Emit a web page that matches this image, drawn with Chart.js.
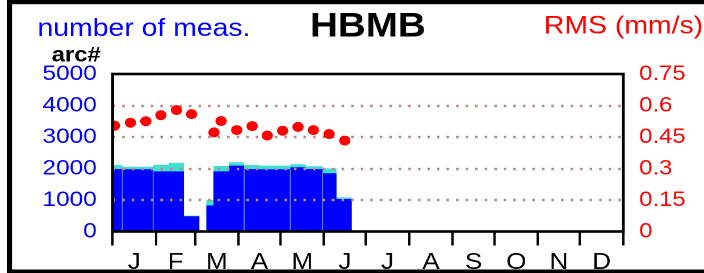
<!DOCTYPE html>
<html>
<head>
<meta charset="utf-8">
<script src="https://cdn.jsdelivr.net/npm/chart.js@4/dist/chart.umd.min.js"></script>
<style>
  html, body { margin: 0; padding: 0; background: #fff; overflow: hidden; }
  #c { display: block; width: 704px; height: 273px; }
</style>
</head>
<body>
<canvas id="c" width="620" height="273" style="width:704px;height:273px"></canvas>
<script>
// ---------- data ----------
const monthLabels = ['J','F','M','A','M','J','J','A','S','O','N','D'];
const monthDays = [31,28,31,30,31,30,31,31,30,31,30,31];

// measurement periods (day of year)
const periodStart = [0, 7, 29, 40, 51, 67, 72, 83, 94, 105, 127, 138, 150, 160];
const periodEnd   = [7, 29, 40, 51, 62, 72, 83, 94, 105, 127, 138, 150, 160, 171];
// number of measurements (blue part, turquoise part stacked on top)
const blueCounts = [1985, 1975, 1910, 1910, 485, 830, 1910, 2090, 1985, 1975, 2040, 1985, 1850, 1030];
const cyanCounts = [125, 80, 210, 265, 20, 170, 170, 110, 125, 115, 95, 85, 155, 55];
// period boundaries that show a light separator
const separatorDays = [7, 29, 94, 127, 150];

// RMS (mm/s)
const rmsDays   = [1.3, 12.7, 23.7, 34.5, 45.6, 56.4, 72.4, 77.5, 88.7, 99.7, 110.5, 121.5, 132.5, 143.5, 154.7, 165.9];
const rmsValues = [0.504, 0.518, 0.525, 0.554, 0.578, 0.559, 0.472, 0.526, 0.483, 0.502, 0.457, 0.480, 0.498, 0.483, 0.464, 0.433];

const countTicks = [0, 1000, 2000, 3000, 4000, 5000];
const rmsTicks = [0, 0.15, 0.3, 0.45, 0.6, 0.75];

// ---------- derived tables ----------
const monthBounds = [0];
monthDays.forEach(d => monthBounds.push(monthBounds[monthBounds.length - 1] + d));
const monthMids = monthDays.map((d, i) => monthBounds[i] + d / 2);
const midLabel = new Map(monthMids.map((m, i) => [m, monthLabels[i]]));
const boundSet = new Set(monthBounds);
const xTicks = monthBounds.concat(monthMids).sort((a, b) => a - b);

function stepSeries(vals) {
  const pts = [];
  for (let i = 0; i < vals.length; i++) {
    if (i > 0 && periodStart[i] !== periodEnd[i - 1]) pts.push({x: periodEnd[i - 1], y: 0});
    pts.push({x: periodStart[i], y: vals[i]});
  }
  pts.push({x: periodEnd[vals.length - 1], y: 0});
  return pts;
}
const totalCounts = blueCounts.map((b, i) => b + cyanCounts[i]);
const sepPts = [];
separatorDays.forEach(d => {
  const i = periodStart.indexOf(d);
  const h = Math.min(blueCounts[i - 1], blueCounts[i]);
  sepPts.push({x: d, y: 0}, {x: d, y: h}, {x: d, y: null});
});
const rmsPts = rmsDays.map((d, i) => ({x: d, y: rmsValues[i]}));

const FONT = '"Liberation Sans", Arial, sans-serif';
Chart.defaults.font.family = FONT;

// ---------- plugins ----------
const gridPlugin = {
  id: 'dottedGrid',
  beforeDatasetDraw(chart, args) {
    if (args.index !== 0) return;
    const ctx = chart.ctx, a = chart.chartArea, y = chart.scales.y;
    ctx.save();
    ctx.strokeStyle = '#b88a8a';
    ctx.lineWidth = 2.6;
    ctx.setLineDash([2.3, 6.1]);
    countTicks.forEach(v => {
      if (v === 0 || v === 5000) return;
      const py = Math.round(y.getPixelForValue(v));
      ctx.beginPath();
      ctx.moveTo(a.left, py);
      ctx.lineTo(a.right, py);
      ctx.stroke();
    });
    ctx.restore();
  }
};

const decorPlugin = {
  id: 'decor',
  afterDraw(chart) {
    const ctx = chart.ctx, a = chart.chartArea;
    ctx.save();
    // plot box
    ctx.strokeStyle = '#000';
    ctx.lineWidth = 2.6;
    ctx.strokeRect(a.left, a.top, a.right - a.left, a.bottom - a.top);
    // texts
    ctx.textBaseline = 'alphabetic';
    ctx.textAlign = 'left';
    ctx.fillStyle = '#0000ff';
    ctx.font = '25px ' + FONT;
    ctx.fillText('number of meas.', 33, 36);
    ctx.fillStyle = '#000';
    ctx.font = 'bold 34px ' + FONT;
    ctx.fillText('HBMB', 273, 36.5);
    ctx.fillStyle = '#ff0000';
    ctx.font = '25px ' + FONT;
    ctx.fillText('RMS (mm/s)', 479, 33.5);
    ctx.fillStyle = '#000';
    ctx.font = 'bold 21px ' + FONT;
    ctx.fillText('arc#', 45.5, 61.5);
    // outer frame
    ctx.fillStyle = '#000';
    ctx.fillRect(6, 0, 4.6, 273);
    ctx.fillRect(6, 0, 620, 4.2);
    ctx.fillRect(6, 269.5, 620, 4);
    ctx.restore();
  }
};

new Chart(document.getElementById('c'), {
  type: 'line',
  data: {
    datasets: [
      {
        label: 'RMS',
        data: rmsPts,
        yAxisID: 'y2',
        showLine: false,
        pointRadius: 5,
        pointBackgroundColor: '#ff0000',
        pointBorderWidth: 0,
        borderColor: '#ff0000'
      },
      {
        label: 'sep',
        data: sepPts,
        yAxisID: 'y',
        borderColor: '#5b7bff',
        borderWidth: 1,
        pointRadius: 0,
        spanGaps: false,
        fill: false
      },
      {
        label: 'blue',
        data: stepSeries(blueCounts),
        yAxisID: 'y',
        stepped: true,
        borderWidth: 0,
        borderColor: 'rgba(0,0,0,0)',
        backgroundColor: '#0000ff',
        pointRadius: 0,
        fill: 'origin'
      },
      {
        label: 'cyan',
        data: stepSeries(totalCounts),
        yAxisID: 'y',
        stepped: true,
        borderWidth: 0,
        borderColor: 'rgba(0,0,0,0)',
        backgroundColor: '#40e0d0',
        pointRadius: 0,
        fill: 'origin'
      }
    ]
  },
  options: {
    responsive: false,
    maintainAspectRatio: false,
    devicePixelRatio: 2,
    animation: false,
    events: [],
    layout: { padding: { top: 74, left: 0, right: 0, bottom: 0 } },
    plugins: { legend: { display: false }, tooltip: { enabled: false }, title: { display: false } },
    scales: {
      x: {
        type: 'linear',
        position: 'bottom',
        min: 0,
        max: 365,
        afterBuildTicks: s => { s.ticks = xTicks.map(v => ({value: v})); },
        afterFit: s => { s.height = 41.5; },
        border: { display: false },
        grid: {
          display: true,
          drawOnChartArea: false,
          drawTicks: true,
          tickLength: 14,
          tickWidth: 2,
          tickColor: ctx => (ctx.tick && boundSet.has(ctx.tick.value)) ? '#000' : 'rgba(0,0,0,0)'
        },
        ticks: {
          autoSkip: false,
          maxRotation: 0,
          minRotation: 0,
          color: '#000',
          font: { size: 23 },
          padding: 3.5,
          callback: v => midLabel.has(v) ? midLabel.get(v) : ''
        }
      },
      y: {
        position: 'left',
        min: 0,
        max: 5000,
        afterBuildTicks: s => { s.ticks = countTicks.map(v => ({value: v})); },
        afterFit: s => { s.width = 99.2; },
        border: { display: false },
        grid: { display: false, drawTicks: false },
        ticks: { color: '#0000ff', font: { size: 21.5 }, padding: 14, callback: v => String(v) }
      },
      y2: {
        position: 'right',
        min: 0,
        max: 0.75,
        afterBuildTicks: s => { s.ticks = rmsTicks.map(v => ({value: v})); },
        afterFit: s => { s.width = 71.1; },
        border: { display: false },
        grid: { display: false, drawTicks: false },
        ticks: { color: '#ff0000', font: { size: 21 }, padding: 14, callback: v => String(v) }
      }
    }
  },
  plugins: [gridPlugin, decorPlugin]
});
</script>
</body>
</html>
